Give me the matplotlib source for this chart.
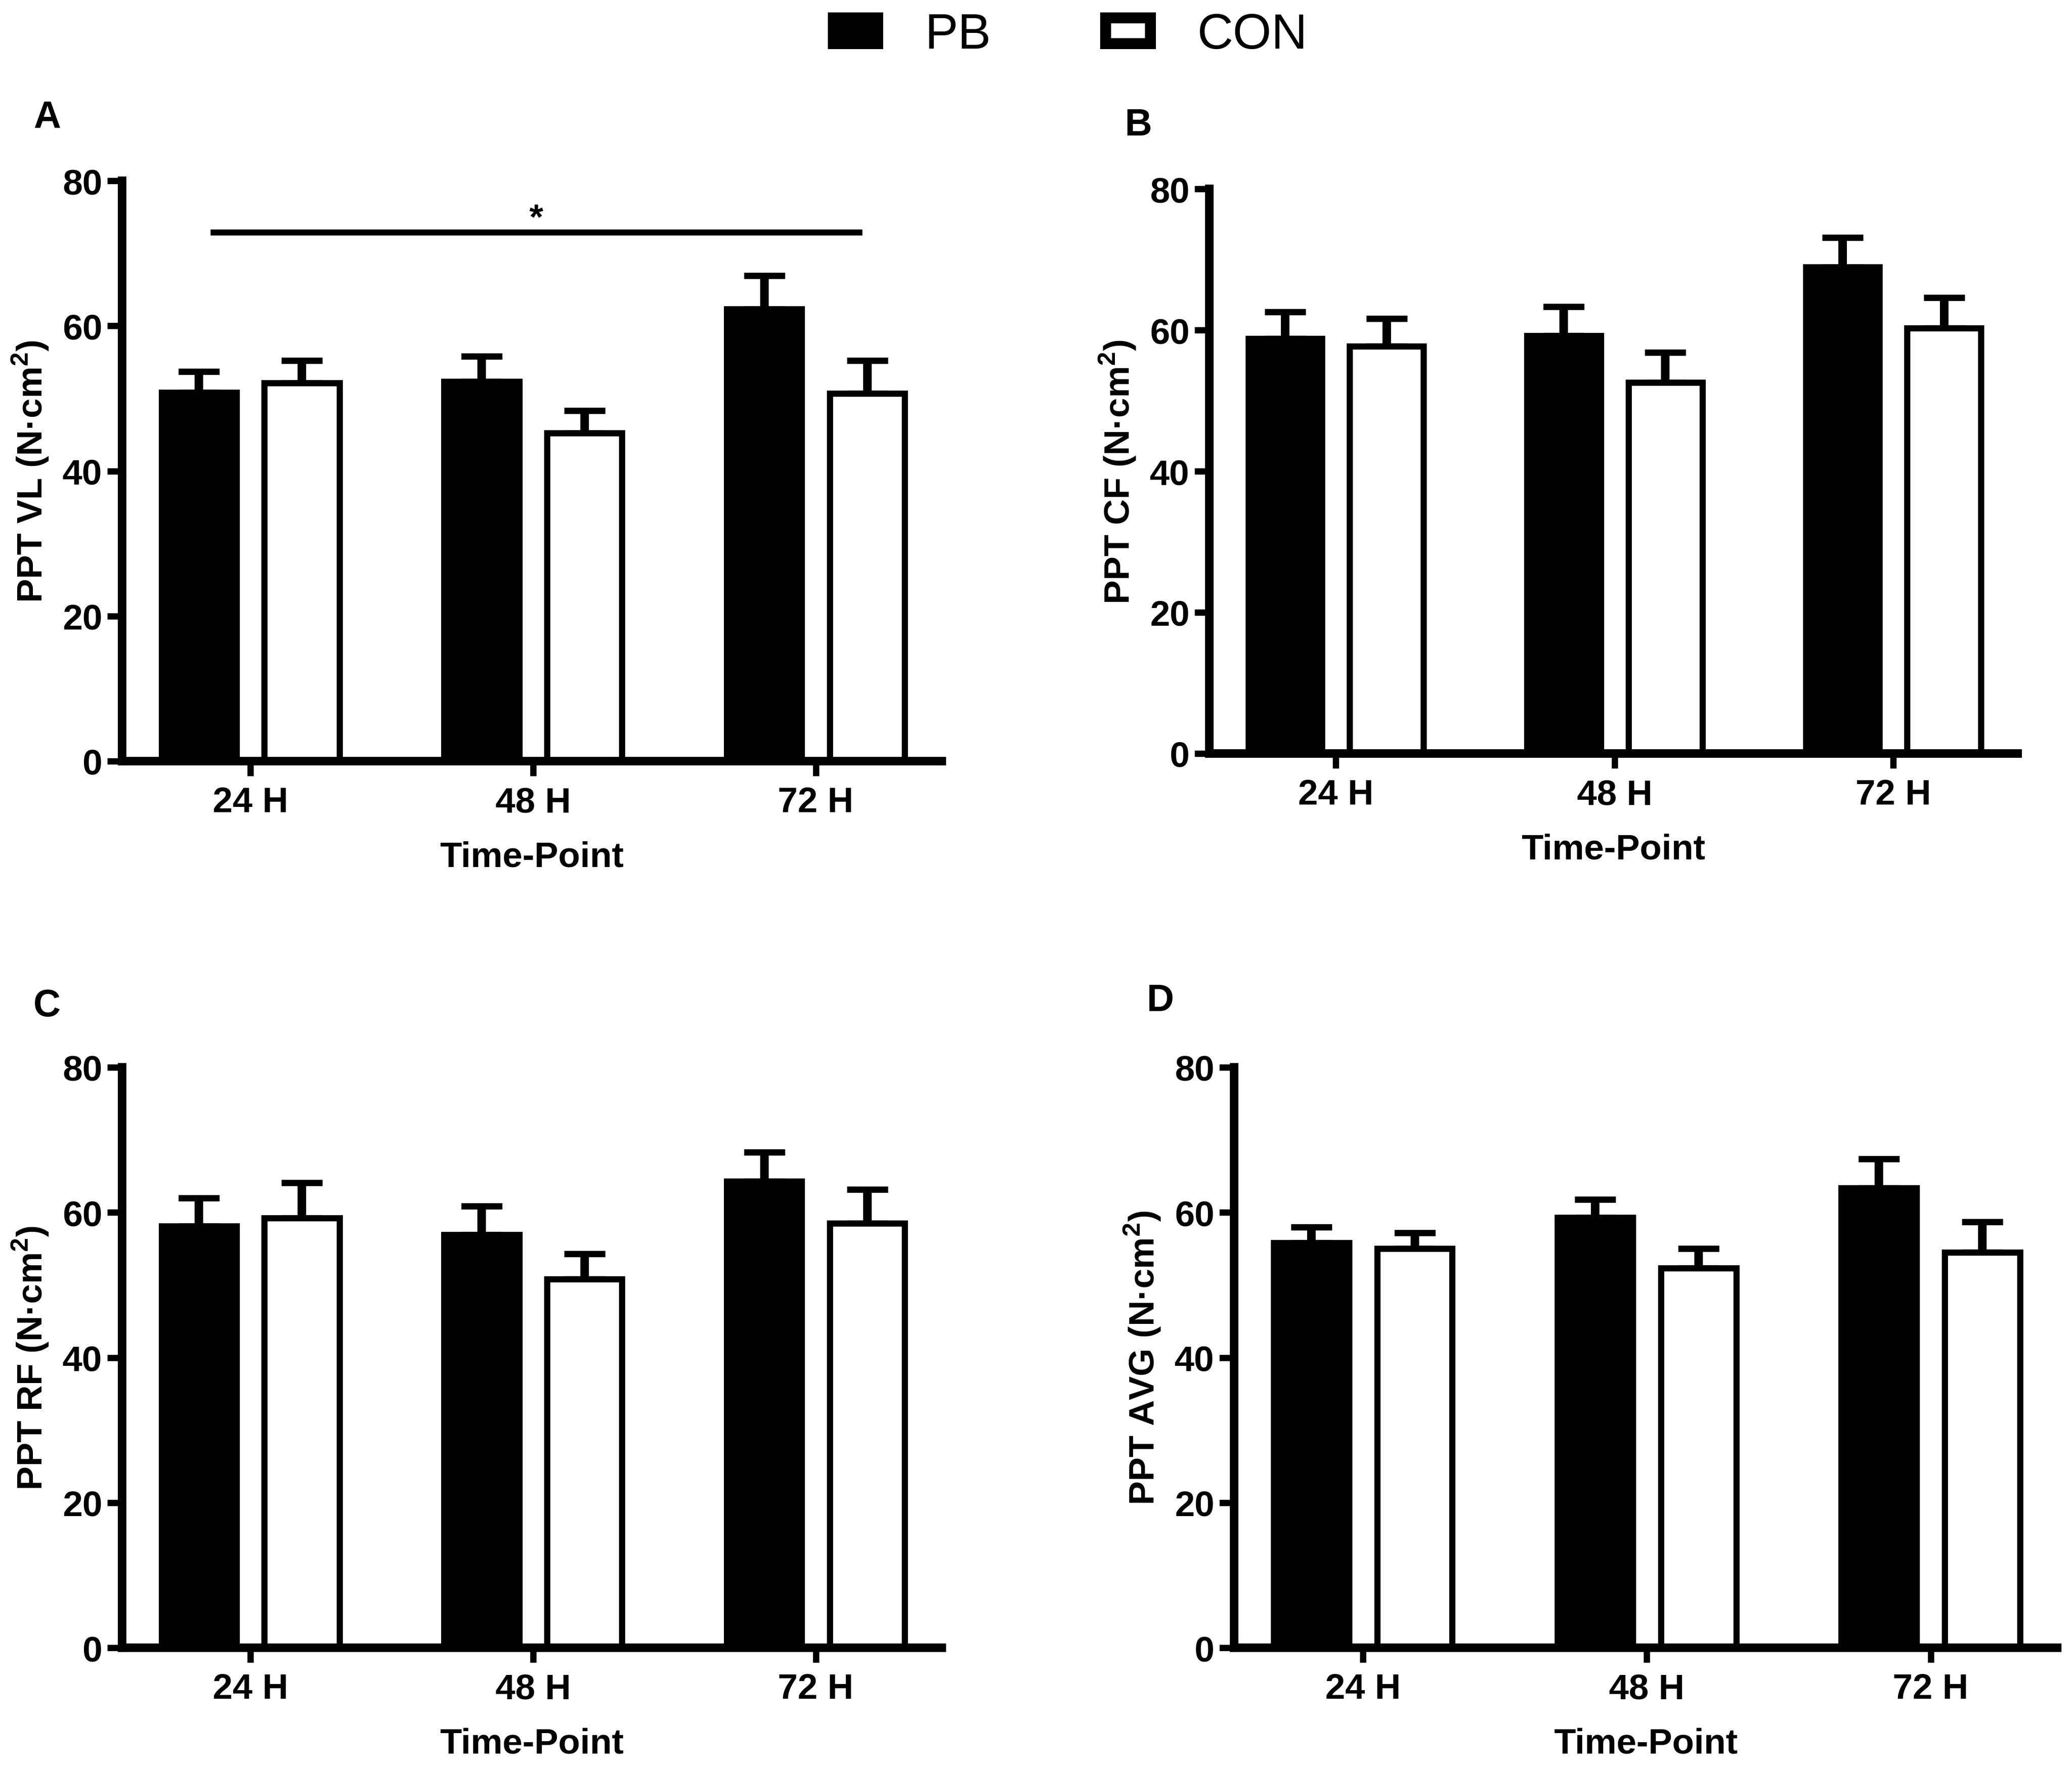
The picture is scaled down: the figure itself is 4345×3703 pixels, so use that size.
"""Pressure pain threshold bars, PB vs CON, four muscle sites."""

import matplotlib

matplotlib.use("Agg")
import matplotlib.pyplot as plt
import numpy as np
from matplotlib.patches import Patch

plt.rcParams["font.family"] = ["Liberation Sans", "DejaVu Sans"]
plt.rcParams["mathtext.fontset"] = "custom"
plt.rcParams["mathtext.bf"] = "Liberation Sans:bold"
plt.rcParams["mathtext.rm"] = "Liberation Sans"

time_points = ["24 H", "48 H", "72 H"]
groups = ["PB", "CON"]

panel_letters = ["A", "B", "C", "D"]
y_labels = [
    r"PPT VL (N·cm$^{\mathbf{2}}$)",
    r"PPT CF (N·cm$^{\mathbf{2}}$)",
    r"PPT RF (N·cm$^{\mathbf{2}}$)",
    r"PPT AVG (N·cm$^{\mathbf{2}}$)",
]

pb_means = [
    [50.8, 52.3, 62.3],
    [58.8, 59.2, 68.9],
    [58.1, 56.9, 64.3],
    [55.8, 59.3, 63.4],
]
pb_sem = [
    [2.9, 3.5, 4.6],
    [3.8, 4.1, 4.2],
    [3.9, 4.0, 4.0],
    [2.2, 2.5, 4.0],
]
con_means = [
    [52.1, 45.2, 50.7],
    [57.7, 52.6, 60.3],
    [59.2, 50.8, 58.5],
    [55.0, 52.3, 54.5],
]
con_sem = [
    [3.1, 3.1, 4.5],
    [3.9, 4.2, 4.3],
    [4.9, 3.5, 4.7],
    [2.2, 2.7, 4.2],
]

# significance bar in panel A: x start, x end, height
sig_line = (-0.142, 2.165, 72.9)

W, H, DPI = 4345, 3704, 300
SPINE_LW = 4.3
TICK_LW = 3.2
EDGE_LW = 3.1

# axes boxes in pixels: left, right, top(80), bottom(0)
boxes = [
    (256, 1975, 380, 1597),
    (2536, 4231, 397, 1581),
    (256, 1975, 2239, 3456),
    (2588, 4314, 2239, 3456),
]
letter_pos = [(70, 248), (2359, 263), (70, 2110), (2405, 2100)]

fig = plt.figure(figsize=(W / DPI, H / DPI), dpi=DPI)

x = np.arange(len(time_points))
bw = 0.265
off = 0.182

for i in range(4):
    l, r, t, b = boxes[i]
    ax = fig.add_axes([l / W, 1 - b / H, (r - l) / W, (b - t) / H])

    ax.bar(x - off, pb_means[i], bw, color="black", edgecolor="black", linewidth=EDGE_LW, zorder=3)
    ax.bar(x + off, con_means[i], bw, color="white", edgecolor="black", linewidth=EDGE_LW, zorder=3)
    for xs, m, e in [(x - off, pb_means[i], pb_sem[i]), (x + off, con_means[i], con_sem[i])]:
        ax.errorbar(xs, m, yerr=[np.zeros(len(e)), e], fmt="none", ecolor="black",
                    elinewidth=SPINE_LW, capsize=10.3, capthick=TICK_LW, zorder=2)

    ax.set_xlim(-0.454, 2.446)
    ax.set_ylim(0, 80)
    ax.set_yticks([0, 20, 40, 60, 80])
    ax.set_xticks(x)
    ax.set_xticklabels(time_points)
    for s in ["top", "right"]:
        ax.spines[s].set_visible(False)
    for s in ["left", "bottom"]:
        ax.spines[s].set_linewidth(SPINE_LW)
        ax.spines[s].set_zorder(4)
    ax.tick_params(axis="both", width=TICK_LW, length=7.5, labelsize=18)
    ax.tick_params(axis="y", pad=2.4)
    ax.tick_params(axis="x", pad=5.0)
    for lab in ax.get_xticklabels() + ax.get_yticklabels():
        lab.set_fontweight("bold")

    ax.set_xlabel("Time-Point", fontsize=18, fontweight="bold", labelpad=11)
    ax.set_ylabel(y_labels[i], fontsize=18, fontweight="bold", labelpad=6)

    lx, ly = letter_pos[i]
    fig.text(lx / W, 1 - ly / H, panel_letters[i], fontsize=19, fontweight="bold",
             ha="left", va="center")

    if i == 0:
        x0, x1, ys = sig_line
        ax.plot([x0, x1], [ys, ys], color="black", lw=3.0, solid_capstyle="butt", clip_on=False)
        ax.text((x0 + x1) / 2, ys + 0.6, "*", fontsize=18, fontweight="bold",
                ha="center", va="baseline")

handles = [
    Patch(facecolor="black", edgecolor="black", linewidth=5.5),
    Patch(facecolor="white", edgecolor="black", linewidth=5.5),
]
fig.legend(handles, groups, loc="center", bbox_to_anchor=(0.5165, 0.9795), ncol=2,
           frameon=False, fontsize=25, handlelength=0.9, handleheight=0.42,
           handletextpad=0.95, columnspacing=2.3, borderaxespad=0, borderpad=0)

fig.savefig("out.png", dpi=DPI)
plt.close(fig)
